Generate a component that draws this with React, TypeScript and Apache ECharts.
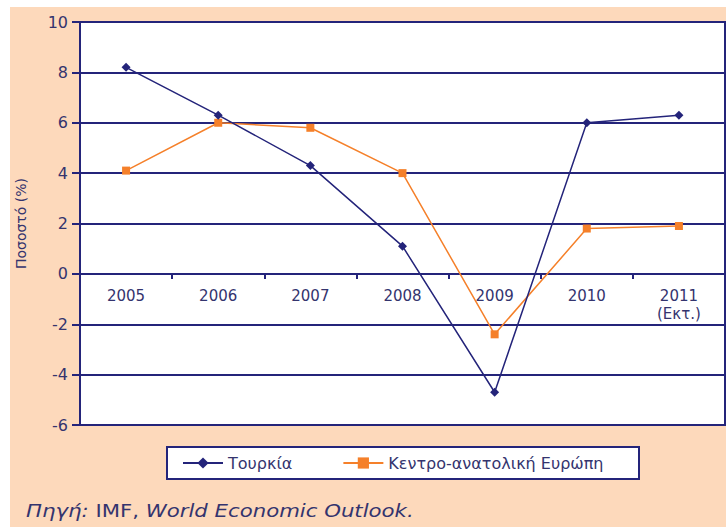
import React, { useEffect, useRef } from "react";
import * as echarts from "echarts";

const categories = ["2005", "2006", "2007", "2008", "2009", "2010", "2011\n(Εκτ.)"];
const turkey = [8.2, 6.3, 4.3, 1.1, -4.7, 6.0, 6.3];
const cee = [4.1, 6.0, 5.8, 4.0, -2.4, 1.8, 1.9];
const seriesNames = ["Τουρκία", "Κεντρο-ανατολική Ευρώπη"];
const yAxisName = "Ποσοστό (%)";
const sourceText = "{i|Πηγή:} IMF, {i|World Economic Outlook.}";

const NAVY = "#24247a";
const TEXT = "#34346e";
const ORANGE = "#f5802a";
const PEACH = "#fdd9bb";
const FONT = "DejaVu Sans";

export default function App() {
  const ref = useRef<HTMLDivElement>(null);
  useEffect(() => {
    if (!ref.current) return;
    const chart = echarts.init(ref.current, undefined, { renderer: "svg" });
    chart.setOption({
      animation: false,
      backgroundColor: PEACH,
      textStyle: { fontFamily: FONT },
      grid: {
        left: 80,
        top: 22,
        right: 1,
        bottom: 102,
        show: true,
        backgroundColor: "#ffffff",
        borderColor: NAVY,
        borderWidth: 2,
      },
      xAxis: [
        {
          type: "category",
          data: categories,
          boundaryGap: true,
          axisLine: { onZero: true, lineStyle: { color: NAVY, width: 2 } },
          axisTick: { show: true, interval: 0, length: 5, lineStyle: { color: NAVY, width: 2 } },
          axisLabel: { show: false },
          splitLine: { show: false },
        },
        {
          type: "category",
          data: categories,
          boundaryGap: true,
          position: "bottom",
          offset: -151,
          axisLine: { show: false, onZero: false },
          axisTick: { show: false },
          axisLabel: {
            interval: 0,
            margin: 13,
            color: TEXT,
            fontSize: 15,
            lineHeight: 18,
            fontFamily: FONT,
          },
          splitLine: { show: false },
        },
      ],
      yAxis: {
        type: "value",
        min: -6,
        max: 10,
        interval: 2,
        name: yAxisName,
        nameLocation: "middle",
        nameGap: 52,
        nameRotate: 90,
        nameTextStyle: { color: TEXT, fontSize: 14, fontFamily: FONT },
        axisLine: { show: true, lineStyle: { color: NAVY, width: 2 } },
        axisTick: { show: true, length: 8, lineStyle: { color: NAVY, width: 2 } },
        axisLabel: { margin: 12, color: TEXT, fontSize: 16, fontFamily: FONT },
        splitLine: { show: true, lineStyle: { color: NAVY, width: 2 } },
      },
      legend: {
        left: 182,
        top: 455,
        padding: 0,
        itemWidth: 40,
        itemHeight: 14,
        itemGap: 50,
        textStyle: { color: TEXT, fontSize: 16, fontFamily: FONT },
        data: seriesNames,
      },
      graphic: [
        { type: "rect", shape: { x: 0, y: 0, width: 10, height: 527 }, style: { fill: "#ffffff" }, silent: true },
        { type: "rect", shape: { x: 0, y: 0, width: 726, height: 7 }, style: { fill: "#ffffff" }, silent: true },
        {
          type: "rect",
          shape: { x: 167, y: 447, width: 472, height: 32 },
          style: { fill: "#ffffff", stroke: NAVY, lineWidth: 2 },
          silent: true,
        },
        {
          type: "text",
          x: 26,
          y: 511,
          scaleX: 1.25,
          style: {
            text: sourceText,
            fontSize: 17,
            fontFamily: FONT,
            fill: TEXT,
            verticalAlign: "middle",
            rich: { i: { fontStyle: "italic", fontSize: 17, fontFamily: FONT, fill: TEXT } },
          },
          silent: true,
        },
      ],
      series: [
        {
          name: seriesNames[0],
          type: "line",
          data: turkey,
          symbol: "diamond",
          symbolSize: 9,
          lineStyle: { color: NAVY, width: 1.5 },
          itemStyle: { color: NAVY },
          z: 3,
        },
        {
          name: seriesNames[1],
          type: "line",
          data: cee,
          symbol: "rect",
          symbolSize: 8,
          lineStyle: { color: ORANGE, width: 1.5 },
          itemStyle: { color: ORANGE },
          z: 2,
        },
      ],
    });
    return () => chart.dispose();
  }, []);
  return (
    <div style={{ position: "fixed", left: 0, top: 0, width: 726, height: 527 }}>
      <div ref={ref} style={{ width: 726, height: 527 }} />
    </div>
  );
}
